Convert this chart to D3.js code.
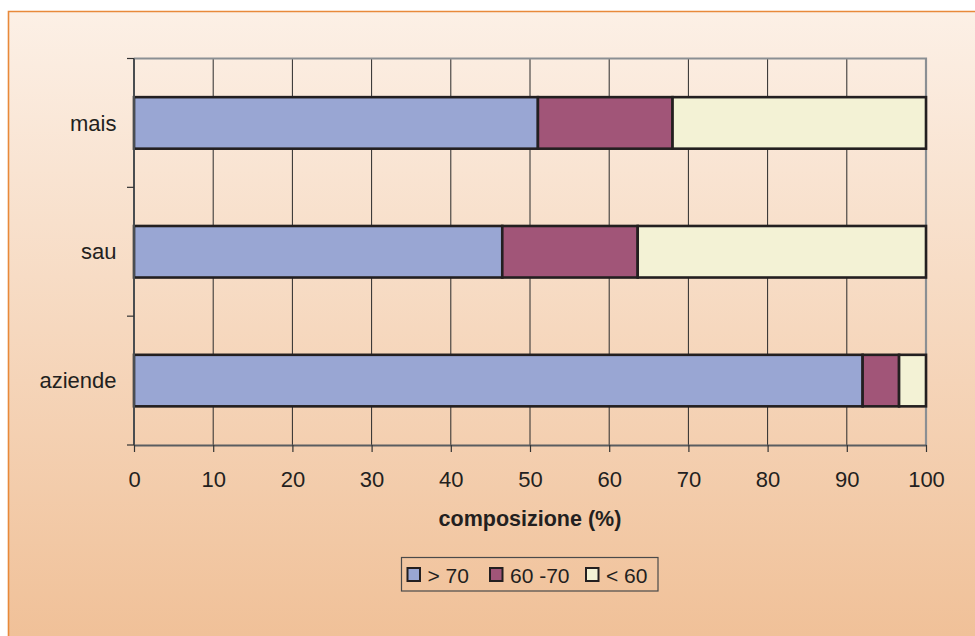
<!DOCTYPE html>
<html>
<head>
<meta charset="utf-8">
<script src="https://cdn.jsdelivr.net/npm/d3@7"></script>
<style>
  html, body { margin: 0; padding: 0; background: #ffffff; }
  svg { display: block; font-family: "Liberation Sans", Arial, sans-serif; }
</style>
</head>
<body>
<svg id="chart" width="975" height="636"></svg>
<script>
// Composizione per classe (%)
const categories = ["mais", "sau", "aziende"];
const seriesNames = ["> 70", "60 -70", "< 60"];
const over70 = [51, 46.5, 92];
const from60to70 = [17, 17.1, 4.6];
const under60 = [32, 36.4, 3.4];
const xTicks = [0, 10, 20, 30, 40, 50, 60, 70, 80, 90, 100];
const axisTitle = "composizione (%)";

const colors = ["#99a6d3", "#a15578", "#f3f2d5"];

const svg = d3.select("#chart");
const W = 975, H = 636;

// Background panel with vertical gradient
const defs = svg.append("defs");
const grad = defs.append("linearGradient")
  .attr("id", "bg").attr("x1", 0).attr("y1", 0).attr("x2", 0).attr("y2", 1);
grad.append("stop").attr("offset", "0%").attr("stop-color", "#fcf0e6");
grad.append("stop").attr("offset", "100%").attr("stop-color", "#f0c097");

svg.append("rect").attr("x", 8).attr("y", 11)
  .attr("width", W).attr("height", H)
  .attr("fill", "url(#bg)");
svg.append("path")
  .attr("d", `M8.5,${H} V11.5 H${W}`)
  .attr("fill", "none").attr("stroke", "#e8893a").attr("stroke-width", 1.6);

const margin = { left: 134, right: 926, top: 58.5, bottom: 445 };

const x = d3.scaleLinear().domain([0, 100]).range([margin.left, margin.right]);
const y = d3.scaleBand().domain(categories)
  .range([margin.top, margin.bottom]).paddingInner(0.6).paddingOuter(0.3);

// Stack the three series
const rows = categories.map((c, i) => ({
  cat: c, s0: over70[i], s1: from60to70[i], s2: under60[i]
}));
const stack = d3.stack().keys(["s0", "s1", "s2"]);
const layers = stack(rows);

// Vertical gridlines
svg.append("g")
  .selectAll("line")
  .data(xTicks.filter(t => t > 0 && t < 100))
  .join("line")
  .attr("x1", d => x(d)).attr("x2", d => x(d))
  .attr("y1", margin.top).attr("y2", margin.bottom)
  .attr("stroke", "#2a2a2a").attr("stroke-width", 1);

// Plot frame (top and right)
svg.append("path")
  .attr("d", `M${margin.left},${margin.top} H${margin.right} V${margin.bottom}`)
  .attr("fill", "none").attr("stroke", "#8b8f93").attr("stroke-width", 2.2);

// Bars
svg.append("g")
  .selectAll("g")
  .data(layers)
  .join("g")
  .attr("fill", (d, i) => colors[i])
  .selectAll("rect")
  .data(d => d)
  .join("rect")
  .attr("x", d => x(d[0]))
  .attr("y", d => y(d.data.cat))
  .attr("width", d => x(d[1]) - x(d[0]))
  .attr("height", y.bandwidth())
  .attr("stroke", "#231f20").attr("stroke-width", 2.6);

// X axis
const xAxis = svg.append("g")
  .attr("transform", `translate(0,${margin.bottom})`)
  .call(d3.axisBottom(x).tickValues(xTicks).tickSize(7).tickPadding(19).tickSizeOuter(0));
xAxis.select(".domain").attr("stroke", "#5a5d60").attr("stroke-width", 2);
xAxis.selectAll(".tick line").attr("stroke", "#333").attr("stroke-width", 1.2);
xAxis.selectAll(".tick text")
  .attr("font-size", 22).attr("fill", "#231f20")
  .attr("font-family", "Liberation Sans, Arial, sans-serif");

// Y axis: ticks at band boundaries, labels at band centres
const yAxisG = svg.append("g");
yAxisG.append("line")
  .attr("x1", margin.left).attr("x2", margin.left)
  .attr("y1", margin.top).attr("y2", margin.bottom)
  .attr("stroke", "#4a4d50").attr("stroke-width", 2);
const step = (margin.bottom - margin.top) / categories.length;
yAxisG.selectAll("line.tick")
  .data(d3.range(categories.length + 1))
  .join("line")
  .attr("class", "tick")
  .attr("x1", margin.left - 7).attr("x2", margin.left)
  .attr("y1", d => margin.top + d * step).attr("y2", d => margin.top + d * step)
  .attr("stroke", "#333").attr("stroke-width", 1.2);
yAxisG.selectAll("text")
  .data(categories)
  .join("text")
  .attr("x", margin.left - 17.5)
  .attr("y", d => y(d) + y.bandwidth() / 2)
  .attr("dy", "0.35em")
  .attr("text-anchor", "end")
  .attr("font-size", 22).attr("fill", "#231f20")
  .text(d => d);

// Axis title
svg.append("text")
  .attr("x", (margin.left + margin.right) / 2)
  .attr("y", 526)
  .attr("text-anchor", "middle")
  .attr("font-size", 21.5).attr("font-weight", "bold").attr("fill", "#231f20")
  .text(axisTitle);

// Legend
const legend = svg.append("g");
legend.append("rect")
  .attr("x", 401.5).attr("y", 557.5).attr("width", 256.5).attr("height", 33.5)
  .attr("fill", "none").attr("stroke", "#4a4a4a").attr("stroke-width", 1.2);
const legendX = [407.5, 490, 586];
const items = legend.selectAll("g.item")
  .data(seriesNames)
  .join("g").attr("class", "item")
  .attr("transform", (d, i) => `translate(${legendX[i]},568)`);
items.append("rect")
  .attr("width", 12.5).attr("height", 13)
  .attr("fill", (d, i) => colors[i])
  .attr("stroke", "#231f20").attr("stroke-width", 2);
items.append("text")
  .attr("x", 20).attr("y", 15.3)
  .attr("font-size", 21).attr("fill", "#231f20")
  .text(d => d);
</script>
</body>
</html>
